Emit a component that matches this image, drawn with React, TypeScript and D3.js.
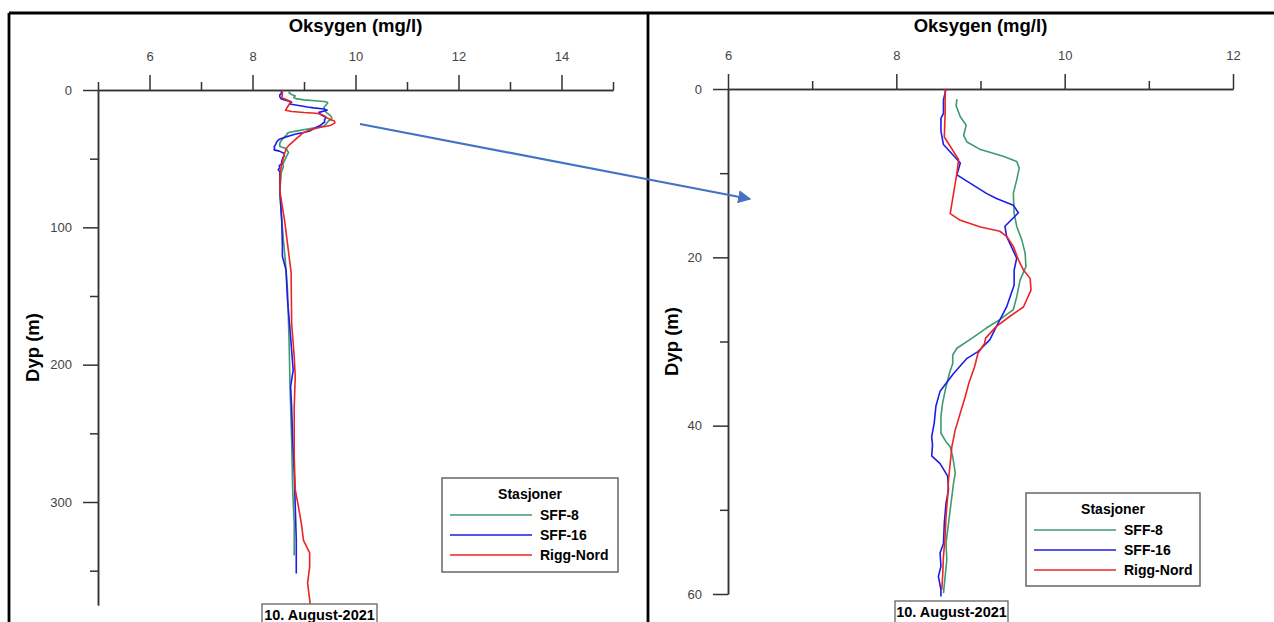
import React, { useEffect, useRef } from "react";
import * as d3 from "d3";

// [depth (m), oxygen (mg/l)]
const stations = ["SFF-8", "SFF-16", "Rigg-Nord"];
const stationColors = ["#3e9a6f", "#1d1de8", "#ec2424"];

const sff8 = [
  [1.2, 8.72], [2.0, 8.71], [3.3, 8.76], [4.3, 8.83], [5.5, 8.8], [6.3, 8.84], [7.2, 9.0],
  [8.0, 9.27], [8.6, 9.43], [9.4, 9.46], [10.8, 9.43], [12.4, 9.39], [14.8, 9.4], [16.3, 9.43],
  [17.9, 9.49], [19.5, 9.53], [21.1, 9.54], [22.7, 9.47], [24.7, 9.43], [26.2, 9.39],
  [27.4, 9.23], [28.4, 9.07], [29.6, 8.9], [30.8, 8.72], [31.6, 8.67], [32.6, 8.67],
  [33.8, 8.63], [35.4, 8.59], [37.3, 8.55], [38.9, 8.53], [40.9, 8.53], [41.9, 8.59],
  [42.5, 8.64], [43.7, 8.67], [45.6, 8.7], [46.8, 8.68], [49.2, 8.65], [51.6, 8.62],
  [54.0, 8.59], [55.9, 8.6], [57.9, 8.58], [59.9, 8.56], [65, 8.55], [73, 8.53], [90, 8.56],
  [109, 8.6], [130, 8.65], [146, 8.68], [182, 8.71], [218, 8.73], [255, 8.76], [291, 8.78],
  [316, 8.81], [339, 8.81],
];

const sff16 = [
  [0, 8.59], [1.3, 8.56], [2.9, 8.56], [3.5, 8.53], [5.0, 8.53], [6.6, 8.56], [8.8, 8.76],
  [10.2, 8.72], [12.4, 9.07], [13.0, 9.19], [13.8, 9.39], [14.7, 9.45], [16.3, 9.29],
  [17.5, 9.31], [20.1, 9.43], [21.5, 9.4], [23.3, 9.4], [25.9, 9.31], [28.2, 9.19],
  [29.8, 9.11], [31.2, 8.97], [32.0, 8.84], [33.8, 8.68], [35.9, 8.52], [37.7, 8.47],
  [39.7, 8.45], [41.3, 8.42], [42.3, 8.43], [43.6, 8.42], [44.5, 8.52], [46.0, 8.61],
  [47.6, 8.62], [49.2, 8.59], [51.6, 8.57], [54.0, 8.56], [55.1, 8.52], [56.7, 8.53],
  [57.9, 8.5], [59.5, 8.53], [60.3, 8.53], [73, 8.53], [97, 8.57], [114, 8.58], [121, 8.58],
  [131, 8.65], [153, 8.68], [175, 8.73], [204, 8.79], [216, 8.74], [231, 8.76], [255, 8.78],
  [279, 8.81], [303, 8.83], [328, 8.85], [352, 8.85],
];

const riggNord = [
  [0, 8.58], [2.8, 8.58], [5.7, 8.57], [6.8, 8.64], [8.4, 8.74], [10.0, 8.72], [12.4, 8.68],
  [14.8, 8.64], [15.6, 8.76], [16.4, 9.0], [16.9, 9.23], [17.5, 9.31], [18.7, 9.39],
  [20.3, 9.45], [21.5, 9.51], [22.5, 9.59], [23.9, 9.6], [25.9, 9.51], [27.0, 9.35],
  [28.2, 9.19], [29.6, 9.06], [30.2, 9.05], [31.4, 8.97], [33.0, 8.93], [35.0, 8.86],
  [36.5, 8.82], [38.5, 8.76], [40.5, 8.7], [42.5, 8.66], [44.5, 8.64], [46.4, 8.62],
  [48.4, 8.61], [50.8, 8.59], [53.2, 8.58], [55.5, 8.56], [57.9, 8.55], [59.5, 8.54],
  [73, 8.53], [97, 8.63], [121, 8.71], [133, 8.75], [170, 8.76], [194, 8.81], [209, 8.83],
  [231, 8.81], [267, 8.81], [291, 8.83], [303, 8.89], [316, 8.95], [328, 8.99], [337, 9.11],
  [347, 9.11], [359, 9.07], [374, 9.12],
];

const profiles = [sff8, sff16, riggNord];

const xTitle = "Oksygen (mg/l)";
const yTitle = "Dyp (m)";
const legendTitle = "Stasjoner";
const dateLabel = "10. August-2021";

// full profile
const overviewX = [5, 15];
const overviewY = [0, 375];
const overviewXMajor = [6, 8, 10, 12, 14];
const overviewXMinor = [5, 7, 9, 11, 13, 15];
const overviewYMajor = [0, 100, 200, 300];
const overviewYMinor = [50, 150, 250, 350];

// top 60 m
const zoomX = [6, 12];
const zoomY = [0, 60];
const zoomXMajor = [6, 8, 10, 12];
const zoomXMinor = [7, 9, 11];
const zoomYMajor = [0, 20, 40, 60];
const zoomYMinor = [10, 30, 50];

const FONT = "'Liberation Sans', Arial, sans-serif";

export default function App() {
  const svgRef = useRef(null);

  useEffect(() => {
    const svg = d3.select(svgRef.current);
    svg.selectAll("*").remove();

    svg.append("defs").append("marker")
      .attr("id", "arrowhead")
      .attr("viewBox", "0 0 10 10")
      .attr("refX", 9)
      .attr("refY", 5)
      .attr("markerWidth", 6)
      .attr("markerHeight", 6)
      .attr("orient", "auto")
      .append("path")
      .attr("d", "M0,0 L10,5 L0,10 z")
      .attr("fill", "#4472c4");

    // outer frame
    const frame = svg.append("g").attr("stroke", "#000").attr("stroke-width", 2.8);
    frame.append("line").attr("x1", 9).attr("x2", 1274).attr("y1", 13).attr("y2", 13);
    frame.append("line").attr("x1", 9).attr("x2", 9).attr("y1", 13).attr("y2", 622);
    frame.append("line").attr("x1", 648).attr("x2", 648).attr("y1", 13).attr("y2", 622);

    function drawPanel(opts) {
      const { xDomain, xRange, yDomain, yRange, xMajor, xMinor, yMajor, yMinor,
        maxDepth, legend, date, yLabelX } = opts;
      const x = d3.scaleLinear().domain(xDomain).range(xRange);
      const y = d3.scaleLinear().domain(yDomain).range(yRange);
      const g = svg.append("g");

      const styleAxis = (sel) => {
        sel.select(".domain").attr("stroke", "#333").attr("stroke-width", 1.5);
        sel.selectAll(".tick line").attr("stroke", "#333").attr("stroke-width", 1.5);
        sel.selectAll(".tick text")
          .attr("fill", "#444")
          .style("font-family", FONT)
          .style("font-size", "13px");
      };

      g.append("g").attr("transform", `translate(0,${yRange[0]})`)
        .call(d3.axisTop(x).tickValues(xMinor).tickSize(8).tickSizeOuter(0).tickFormat(() => ""))
        .call(styleAxis);
      g.append("g").attr("transform", `translate(0,${yRange[0]})`)
        .call(d3.axisTop(x).tickValues(xMajor).tickSize(15).tickSizeOuter(0).tickPadding(14).tickFormat(d3.format("d")))
        .call(styleAxis);
      g.append("g").attr("transform", `translate(${xRange[0]},0)`)
        .call(d3.axisLeft(y).tickValues(yMinor).tickSize(8).tickSizeOuter(0).tickFormat(() => ""))
        .call(styleAxis);
      g.append("g").attr("transform", `translate(${xRange[0]},0)`)
        .call(d3.axisLeft(y).tickValues(yMajor).tickSize(15).tickSizeOuter(0).tickPadding(11).tickFormat(d3.format("d")))
        .call(styleAxis);

      g.append("text")
        .attr("x", (xRange[0] + xRange[1]) / 2)
        .attr("y", 32)
        .attr("text-anchor", "middle")
        .style("font-family", FONT)
        .style("font-size", "18.5px")
        .style("font-weight", "bold")
        .text(xTitle);

      g.append("text")
        .attr("transform", `translate(${yLabelX},${(yRange[0] + yRange[1]) / 2}) rotate(-90)`)
        .attr("text-anchor", "middle")
        .style("font-family", FONT)
        .style("font-size", "18.5px")
        .style("font-weight", "bold")
        .text(yTitle);

      const line = d3.line().x(d => x(d[1])).y(d => y(d[0]));
      profiles.forEach((p, i) => {
        g.append("path")
          .datum(p.filter(d => d[0] <= maxDepth))
          .attr("d", line)
          .attr("fill", "none")
          .attr("stroke", stationColors[i])
          .attr("stroke-width", 1.6)
          .attr("stroke-linejoin", "round");
      });

      // legend
      const lg = g.append("g");
      lg.append("rect")
        .attr("x", legend.x).attr("y", legend.y)
        .attr("width", legend.w).attr("height", legend.h)
        .attr("fill", "#fff").attr("stroke", "#666").attr("stroke-width", 1.5);
      lg.append("text")
        .attr("x", legend.x + legend.w / 2)
        .attr("y", legend.y + 21)
        .attr("text-anchor", "middle")
        .style("font-family", FONT)
        .style("font-size", "14px")
        .style("font-weight", "bold")
        .text(legendTitle);
      stations.forEach((s, i) => {
        const ly = legend.y + 37 + i * 20;
        lg.append("line")
          .attr("x1", legend.x + 8).attr("x2", legend.x + 90)
          .attr("y1", ly).attr("y2", ly)
          .attr("stroke", stationColors[i]).attr("stroke-width", 1.6);
        lg.append("text")
          .attr("x", legend.x + 98)
          .attr("y", ly + 5)
          .style("font-family", FONT)
          .style("font-size", "14px")
          .style("font-weight", "bold")
          .text(s);
      });

      // date tag
      g.append("rect")
        .attr("x", date.x).attr("y", date.y)
        .attr("width", date.w).attr("height", 30)
        .attr("fill", "#fff").attr("stroke", "#555").attr("stroke-width", 1.2);
      g.append("text")
        .attr("x", date.x + date.w / 2)
        .attr("y", date.y + 16)
        .attr("text-anchor", "middle")
        .style("font-family", FONT)
        .style("font-size", "14.5px")
        .style("font-weight", "bold")
        .text(dateLabel);
    }

    drawPanel({
      xDomain: overviewX, yDomain: overviewY,
      xRange: [98, 613], yRange: [90, 605],
      xMajor: overviewXMajor, xMinor: overviewXMinor,
      yMajor: overviewYMajor, yMinor: overviewYMinor,
      maxDepth: 400,
      legend: { x: 442, y: 478, w: 176, h: 94 },
      date: { x: 262, y: 604, w: 115 },
      yLabelX: 39,
    });

    drawPanel({
      xDomain: zoomX, yDomain: zoomY,
      xRange: [728, 1233], yRange: [89, 594],
      xMajor: zoomXMajor, xMinor: zoomXMinor,
      yMajor: zoomYMajor, yMinor: zoomYMinor,
      maxDepth: 60.5,
      legend: { x: 1026, y: 493, w: 174, h: 93 },
      date: { x: 895, y: 601, w: 113 },
      yLabelX: 678,
    });

    // arrow from the surface layer to the zoomed panel
    svg.append("line")
      .attr("x1", 360).attr("y1", 124)
      .attr("x2", 750).attr("y2", 199)
      .attr("stroke", "#4472c4")
      .attr("stroke-width", 2.2)
      .attr("marker-end", "url(#arrowhead)");
  }, []);

  return (
    <svg
      ref={svgRef}
      width={1274}
      height={622}
      style={{ position: "absolute", left: 0, top: 0, background: "#fff" }}
    />
  );
}
